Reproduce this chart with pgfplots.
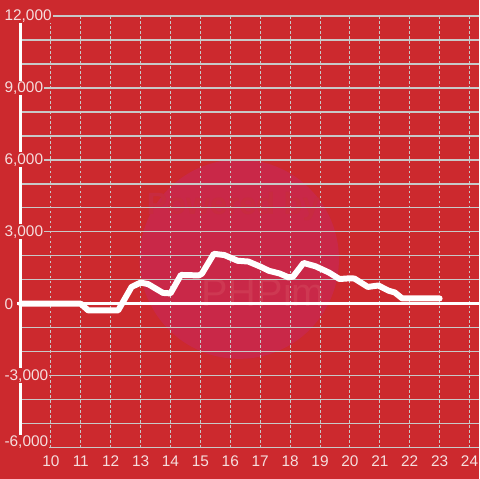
\documentclass[border=0pt]{standalone}
\usepackage{pgfplots}
\pgfplotsset{compat=1.18}
\usepackage{fontspec}
\setmainfont{Liberation Sans}
\definecolor{bgred}{RGB}{204,41,46}
\definecolor{circ}{RGB}{201,40,72}
\definecolor{gridc}{RGB}{200,200,200}
\definecolor{lab}{RGB}{245,222,222}
\definecolor{wm}{RGB}{200,43,64}
\definecolor{wm2}{RGB}{214,80,98}
\begin{document}
\begin{tikzpicture}
\begin{axis}[
  set layers=standard,
  scale only axis,
  width=459bp, height=433bp,
  xmin=9, xmax=24.3, ymin=-6000, ymax=12000,
  clip=false,
  axis x line=bottom, axis y line=left,
  axis line style={-},
  x axis line style={draw=gridc, line width=1.4bp},
  y axis line style={draw=white, line width=3bp},
  xtick={10,11,...,24},
  ytick={-3000,0,...,12000},
  minor ytick={-5000,-4000,-2000,-1000,1000,2000,4000,5000,7000,8000,10000,11000},
  tick style={draw=none},
  xmajorgrids, ymajorgrids, yminorgrids,
  x grid style={draw=gridc, line width=1bp, dash pattern=on 2.5bp off 2.5bp},
  y grid style={draw=gridc, line width=1.4bp, solid},
  minor y grid style={draw=gridc, line width=1.4bp, solid},
  extra y ticks={-6000},
  extra y tick style={y grid style={draw=gridc, line width=1.4bp, solid}, yticklabel style={yshift=5.5bp}},
  scaled y ticks=false,
  /pgf/number format/assume math mode=true,
  /pgf/number format/fixed,
  /pgf/number format/1000 sep={,},
  tick label style={font=\fontsize{15.5}{17}\selectfont, text=lab},
  yticklabel style={anchor=west, xshift=-15.5bp, fill=bgred, inner sep=1bp},
  xticklabel style={inner sep=1bp, yshift=-5bp},
]
\begin{pgfonlayer}{axis background}
\fill[bgred] (axis cs:8.3,-7288.7) rectangle (axis cs:24.3,12665.1);
\fill[circ] (axis cs:16.3,1858) circle[radius=100bp];
\node[text=wm, font=\bfseries\fontsize{31}{33}\selectfont] at (axis cs:16.1,4070) {Powered by};
\node[text=wm2, font=\fontsize{40}{42}\selectfont, opacity=0.4] at (axis cs:17.1,500) {PHPim};
\end{pgfonlayer}
\addplot[white, line width=3bp, forget plot] coordinates {(8.87,0)(24.3,0)};
\addplot[white, line width=6bp, line join=round, line cap=round] coordinates {
(9,0)(11,0)(11.25,-280)(12.25,-280)(12.7,700)(13.0,880)(13.25,820)(13.75,450)(14.0,430)(14.35,1200)(14.95,1180)(15.05,1250)(15.45,2080)(15.8,2030)(16.25,1790)(16.6,1760)(17.0,1550)(17.3,1370)(17.65,1260)(17.95,1100)(18.1,1130)(18.45,1700)(18.85,1560)(19.3,1300)(19.65,1030)(20.0,1060)(20.15,1050)(20.6,700)(20.95,760)(21.3,540)(21.5,470)(21.75,220)(23.0,220)
};
\end{axis}
\end{tikzpicture}
\end{document}
